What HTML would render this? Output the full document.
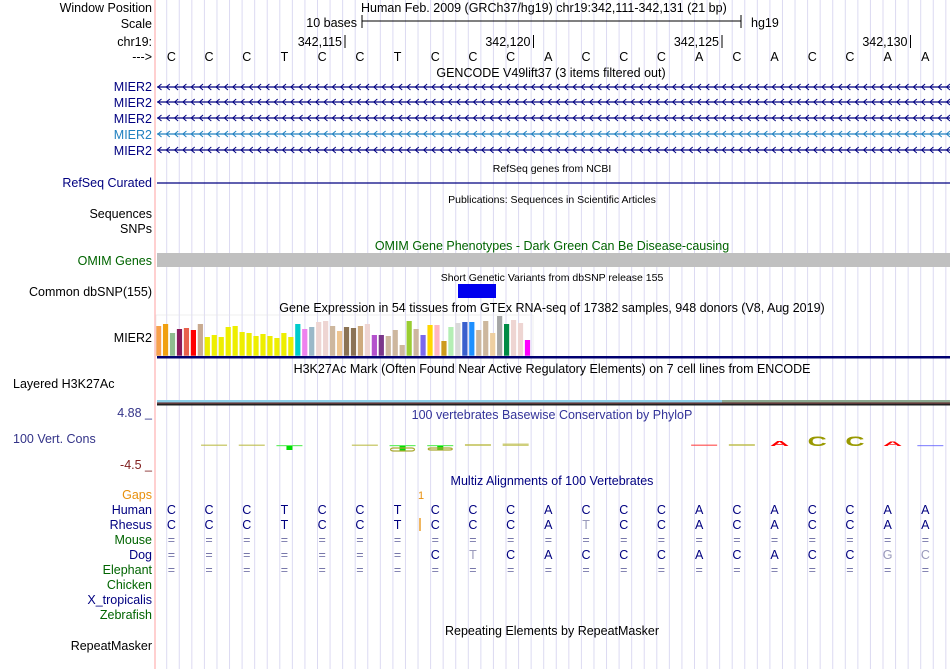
<!DOCTYPE html>
<html><head><meta charset="utf-8"><style>
html,body{margin:0;padding:0;background:#fff;}
svg{display:block;font-family:"Liberation Sans",Arial,sans-serif;}
</style></head><body>
<svg id="c" width="950" height="669" viewBox="0 0 950 669" xmlns="http://www.w3.org/2000/svg">
<g id="grid"></g>
<line x1="155" y1="0" x2="155" y2="669" stroke="#ffb0b0" stroke-width="1.2"/>
<g id="labels" font-size="12.5" text-anchor="end">
<text x="152" y="12">Window Position</text>
<text x="152" y="28">Scale</text>
<text x="152" y="46">chr19:</text>
<text x="152" y="61">---&gt;</text>
<text x="152" y="91" fill="#000080">MIER2</text>
<text x="152" y="107" fill="#000080">MIER2</text>
<text x="152" y="123" fill="#000080">MIER2</text>
<text x="152" y="139" fill="#2080c0">MIER2</text>
<text x="152" y="155" fill="#000080">MIER2</text>
<text x="152" y="187" fill="#000080">RefSeq Curated</text>
<text x="152" y="218">Sequences</text>
<text x="152" y="233">SNPs</text>
<text x="152" y="265" fill="#006400">OMIM Genes</text>
<text x="152" y="296">Common dbSNP(155)</text>
<text x="152" y="342">MIER2</text>
<text x="13" y="388" text-anchor="start">Layered H3K27Ac</text>
<text x="152" y="417" fill="#333388">4.88 _</text>
<text x="13" y="443" text-anchor="start" fill="#333388">100 Vert. Cons</text>
<text x="152" y="469" fill="#802020">-4.5 _</text>
<text x="152" y="499" fill="#e8900c">Gaps</text>
<text x="152" y="514" fill="#000080">Human</text>
<text x="152" y="529" fill="#000080">Rhesus</text>
<text x="152" y="544" fill="#006400">Mouse</text>
<text x="152" y="559" fill="#000080">Dog</text>
<text x="152" y="574" fill="#006400">Elephant</text>
<text x="152" y="589" fill="#006400">Chicken</text>
<text x="152" y="604" fill="#000080">X_tropicalis</text>
<text x="152" y="619" fill="#006400">Zebrafish</text>
<text x="152" y="650">RepeatMasker</text>
</g>
<g font-size="12.5" text-anchor="middle">
<text x="361" y="12" text-anchor="start">Human Feb. 2009 (GRCh37/hg19)   chr19:342,111-342,131 (21 bp)</text>
<text x="551" y="77">GENCODE V49lift37 (3 items filtered out)</text>
<text x="552" y="172" font-size="10.5">RefSeq genes from NCBI</text>
<text x="552" y="203" font-size="10.5">Publications: Sequences in Scientific Articles</text>
<text x="552" y="250" fill="#006400">OMIM Gene Phenotypes - Dark Green Can Be Disease-causing</text>
<text x="552" y="281" font-size="10.5">Short Genetic Variants from dbSNP release 155</text>
<text x="552" y="312">Gene Expression in 54 tissues from GTEx RNA-seq of 17382 samples, 948 donors (V8, Aug 2019)</text>
<text x="552" y="373">H3K27Ac Mark (Often Found Near Active Regulatory Elements) on 7 cell lines from ENCODE</text>
<text x="552" y="419" fill="#333399">100 vertebrates Basewise Conservation by PhyloP</text>
<text x="552" y="485" fill="#000080">Multiz Alignments of 100 Vertebrates</text>
<text x="552" y="635">Repeating Elements by RepeatMasker</text>
</g>
<g>
<line x1="362" y1="21" x2="741" y2="21" stroke="#000"/>
<line x1="362" y1="15" x2="362" y2="28" stroke="#000"/>
<line x1="741" y1="15" x2="741" y2="28" stroke="#000"/>
<text x="357" y="27" font-size="12.5" text-anchor="end">10 bases</text>
<text x="751" y="27" font-size="12.5">hg19</text>
</g>
<g id="ticks" font-size="12.5"></g>
<g id="bases" font-size="12.5" text-anchor="middle"></g>
<g id="genes"></g>
<line x1="157" y1="183" x2="950" y2="183" stroke="#000080" stroke-width="1.2"/>
<rect x="157" y="253" width="793" height="14" fill="#c0c0c0"/>
<rect x="458" y="284" width="38" height="14" fill="#0000ee"/>
<g id="gtex"></g>
<rect x="157" y="356" width="793" height="2.5" fill="#000070"/>
<g>
<rect x="157" y="400" width="565" height="2.5" fill="#8ccfe8"/>
<rect x="722" y="400" width="228" height="2.5" fill="#8aa890"/>
<rect x="157" y="402.5" width="793" height="1.2" fill="#602020"/>
<rect x="157" y="403.7" width="793" height="1.8" fill="#202020"/>
</g>
<g id="phylop"></g>
<g id="maf" font-size="12.5" text-anchor="middle"></g>
<g>
<text x="421" y="499" font-size="11" fill="#e8900c" text-anchor="middle">1</text>
<line x1="420" y1="518" x2="420" y2="531" stroke="#e8900c" stroke-width="1.3"/>
</g>
</svg>
<script>
const NS='http://www.w3.org/2000/svg';
const X0=157.5, BW=37.7;
const bx=i=>X0+BW*(i+0.5)-5;
const refSeq="CCCTCCTCCCACCCACACCAA".split('');
const rhesusSeq="CCCTCCTCCCATCCACACCAA".split('');
const dogSeq="=======CTCACCCACACCGC".split('');
const dogFaint=[8,19,20];
const rhesusFaint=[11];
const tickLabels=["342,115","342,120","342,125","342,130"];
const tickBases=[4,9,14,19];
const gtexValues=[30,32,23,27,28,26,32,19,21,19,29,30,24,23,20,22,20,18,23,19,32,27,29,34,35,30,25,29,28,30,32,21,21,20,26,11,35,27,21,31,31,15,29,33,34,34,26,35,23,40,32,36,33,16];
const gtexColors=["#f8a04c","#f0a010","#8fbc8f","#8b1a5a","#e8604c","#ff0000","#c8aa90","#eeee00","#eeee00","#eeee00","#eeee00","#eeee00","#eeee00","#eeee00","#eeee00","#eeee00","#eeee00","#eeee00","#eeee00","#eeee00","#00cccc","#ee82ee","#9ab8c8","#eed5d2","#eed5d2","#cdb79e","#eec591","#8b7355","#8b7355","#cdaa7d","#eed5d2","#b452cd","#7a378b","#cdb79e","#cdb79e","#cdb79e","#9acd32","#cdb79e","#7b68ee","#ffd700","#ffb6c1","#cd9b1d","#b4eeb4","#d9d9d9","#3a5fcd","#1e90ff","#cdb79e","#cdb79e","#eecfa1","#a6a6a6","#008b45","#eed5d2","#eed5d2","#ff00ff"];
const phyloValues=[0,0.3,0.3,-0.8,0,0.3,-1.0,-0.8,0.4,0.5,0,0,0,0,0.3,0.4,1.0,2.0,2.0,0.9,0.2];
const phyloColors=["#999900","#bbbb44","#bbbb44","#00dd00","#999900","#bbbb44","#00cc00","#00cc00","#bbbb44","#bbbb44","#999900","#999900","#999900","#999900","#ff4040","#bbbb44","#ff0000","#999900","#999900","#ff0000","#6060ff"];
function el(t,a,p){const e=document.createElementNS(NS,t);for(const k in a)e.setAttribute(k,a[k]);p.appendChild(e);return e;}
const grid=document.getElementById('grid');
for(let x=166.7;x<950;x+=BW/3){const l=el('line',{x1:x,y1:0,x2:x,y2:669,stroke:'#dcdaf2','stroke-width':1},grid);

}
const ticks=document.getElementById('ticks');
tickLabels.forEach((t,i)=>{const x=X0+BW*(tickBases[i]+1)-1;
const l=el('line',{x1:x,y1:35,x2:x,y2:48,stroke:'#000'},ticks);


const tx=el('text',{x:x-3,y:46,'text-anchor':'end'},ticks);tx.textContent=t;

});
const bases=document.getElementById('bases');
refSeq.forEach((b,i)=>{const t=el('text',{x:bx(i),y:61},bases);t.textContent=b;

});
const genes=document.getElementById('genes');
[87,102,118,134,150].forEach((y,j)=>{const c=j==3?'#2080c0':'#000080';
const g=el('g',{},genes);


el('line',{x1:157,y1:y,x2:950,y2:y,stroke:c,'stroke-width':1.3},g);
let d='';for(let x=158;x<950;x+=8.3){d+=`M${x+3.5},${y-3}L${x},${y}L${x+3.5},${y+3}`;}
el('path',{d:d,stroke:c,fill:'none','stroke-width':1},g);});
const gtex=document.getElementById('gtex');
gtexValues.forEach((v,i)=>{const r=el('rect',{x:156+i*6.96,y:356-v,width:5.2,height:v,fill:gtexColors[i]},gtex);

});
el('rect',{x:156,y:315,width:377,height:41,fill:'none',stroke:'#e4e4e4','stroke-width':0.6},gtex);
const ph=document.getElementById('phylop');const base0=446,k=5;
phyloValues.forEach((v,i)=>{if(v===0)return;const h=Math.abs(v)*k;const cx=bx(i)+5;
const g=el('g',{},ph);


if(v<0){el('rect',{x:cx-13,y:base0-1,width:26,height:1.2,fill:'#66ee66'},g);
el('rect',{x:cx-3,y:base0,width:6,height:h,fill:'#00dd00'},g);
if(i>5)el('rect',{x:cx-12,y:base0+2,width:24,height:Math.max(h-2,2),fill:'none',stroke:'#aaaa33','stroke-width':1.2,rx:3},g);}
else if(h<3){el('rect',{x:cx-13,y:base0-h,width:26,height:Math.max(h,1.2),fill:phyloColors[i],opacity:0.7},g);}
else{const t=el('text',{x:cx/1.9,y:0,'text-anchor':'middle','font-size':14,'font-weight':'bold',fill:phyloColors[i],
transform:`translate(0,${base0}) scale(1.9,${h/10})`},g);t.textContent=refSeq[i];}});
const maf=document.getElementById('maf');
function row(seq,y,faint,name){seq.forEach((b,i)=>{const t=el('text',{x:bx(i),y:y,fill:faint.includes(i)?'#9999bb':(b==='='?'#7777aa':'#000080')},maf);
t.textContent=b;

});}
row(refSeq,514,[],'human-base');
row(rhesusSeq,529,rhesusFaint,'rhesus-base');
row(refSeq.map(()=>'='),544,[],'mouse-base');
row(dogSeq,559,dogFaint,'dog-base');
row(refSeq.map(()=>'='),574,[],'elephant-base');
</script>
</body></html>
